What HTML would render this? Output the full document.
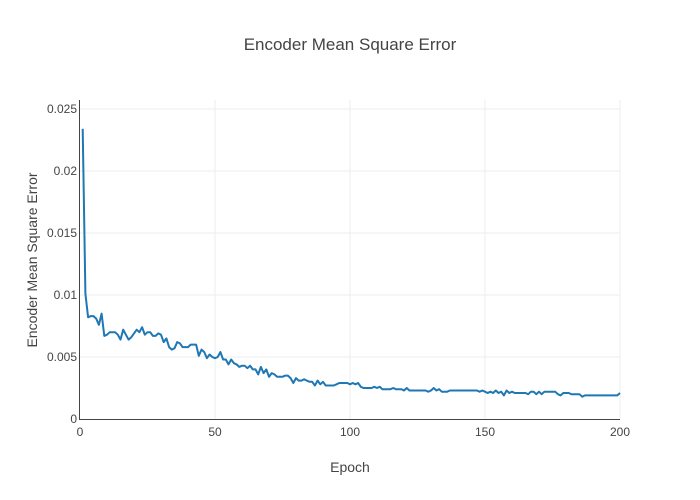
<!DOCTYPE html>
<html><head><meta charset="utf-8">
<style>
body{margin:0;background:#fff;}
svg{display:block;font-family:"Liberation Sans",sans-serif;}
</style></head>
<body>
<svg id="chart" width="700" height="500">
  <g id="grid"></g>
  <g id="axes"></g>
  <path id="line" fill="none" stroke="#1f77b4" stroke-width="2" stroke-linejoin="round"/>
  <text x="350" y="50" text-anchor="middle" font-size="17" fill="#444">Encoder Mean Square Error</text>
  <text x="350" y="472" text-anchor="middle" font-size="14" fill="#444">Epoch</text>
  <text transform="translate(37,260) rotate(-90)" text-anchor="middle" font-size="14" fill="#444">Encoder Mean Square Error</text>
</svg>
<script>
const xTicks=[0,50,100,150,200];
const yTicks=[0,0.005,0.01,0.015,0.02,0.025];
const yTickLabels=["0","0.005","0.01","0.015","0.02","0.025"];
const mseStart=[0.0234,0.0101,0.0082,0.0083,0.0083,0.0081,0.0076,0.0085,0.0067,0.0068,0.0070,0.0070,0.0070,0.0068,0.0064,0.0072,0.0068,0.0064,0.0066,0.0069,0.0072,0.0070,0.0074,0.0068,0.0070,0.0070,0.0067,0.0067,0.0069,0.0068,0.0062,0.0065,0.0058,0.0056,0.0057,0.0062,0.0061,0.0058,0.0058,0.0058,0.0060,0.0060,0.0060,0.0051,0.0056,0.0054,0.0049,0.0052,0.0050,0.0049];
const mseMid=[0.0050,0.0054,0.0048,0.0048,0.0044,0.0048,0.0045,0.0044,0.0042,0.0043,0.0043,0.0041,0.0043,0.0040,0.0040,0.0036,0.0042,0.0037,0.0040,0.0034,0.0037,0.0036,0.0034,0.0034,0.0034,0.0035,0.0035,0.0033,0.0029,0.0033,0.0031,0.0031,0.0032,0.0031,0.0030,0.0030,0.0027,0.0031,0.0028,0.0030,0.0027,0.0027,0.0027,0.0027,0.0028,0.0029,0.0029,0.0029,0.0029,0.0028];
const mseLate=[0.0029,0.0028,0.0029,0.0026,0.0025,0.0025,0.0025,0.0025,0.0026,0.0025,0.0026,0.0024,0.0024,0.0024,0.0024,0.0025,0.0024,0.0024,0.0024,0.0023,0.0025,0.0023,0.0023,0.0023,0.0023,0.0023,0.0023,0.0023,0.0022,0.0023,0.0025,0.0023,0.0024,0.0022,0.0022,0.0022,0.0023,0.0023,0.0023,0.0023,0.0023,0.0023,0.0023,0.0023,0.0023,0.0023,0.0023,0.0022,0.0023,0.0022];
const mseEnd=[0.0021,0.0022,0.0021,0.0023,0.0021,0.0022,0.0019,0.0023,0.0021,0.0022,0.0021,0.0021,0.0021,0.0021,0.0021,0.0020,0.0022,0.0022,0.0020,0.0022,0.0020,0.0022,0.0022,0.0022,0.0022,0.0022,0.0020,0.0019,0.0021,0.0021,0.0021,0.0020,0.0020,0.0020,0.0020,0.0018,0.0019,0.0019,0.0019,0.0019,0.0019,0.0019,0.0019,0.0019,0.0019,0.0019,0.0019,0.0019,0.0019,0.0021];
const mse=mseStart.concat(mseMid,mseLate,mseEnd);
const epochs=mse.map((_,i)=>i+1);
const X0=80,X1=620,Y0=419,Y1=109;
const xs=v=>X0+(v-0)/(200-0)*(X1-X0);
const ys=v=>Y0-(v/0.025)*(Y0-Y1);
const NS="http://www.w3.org/2000/svg";
const grid=document.getElementById('grid'),axes=document.getElementById('axes');
function mk(tag,attrs,parent){const e=document.createElementNS(NS,tag);for(const k in attrs)e.setAttribute(k,attrs[k]);parent.appendChild(e);return e;}
xTicks.forEach(t=>{
  if(t>0){const g=mk('line',{x1:xs(t),x2:xs(t),y1:100,y2:Y0,stroke:'#eee','stroke-width':1},grid);
  
  }
  const l=mk('text',{x:xs(t),y:Y0+17,'text-anchor':'middle','font-size':12,fill:'#444'},axes);
  l.textContent=t;
  
  
});
yTicks.forEach((t,i)=>{
  if(t>0){const g=mk('line',{x1:X0,x2:X1,y1:ys(t),y2:ys(t),stroke:'#eee','stroke-width':1},grid);
  
  }
  const l=mk('text',{x:X0-3,y:ys(t)+4,'text-anchor':'end','font-size':12,fill:'#444'},axes);
  l.textContent=yTickLabels[i];
  
  
});
const ya=mk('line',{x1:X0-0.5,x2:X0-0.5,y1:100,y2:Y0+1,stroke:'#444','stroke-width':1},axes);


const xa=mk('line',{x1:X0-1,x2:X1,y1:Y0+0.5,y2:Y0+0.5,stroke:'#444','stroke-width':1},axes);


document.getElementById('line').setAttribute('d',mse.map((v,i)=>(i?'L':'M')+xs(epochs[i]).toFixed(1)+','+ys(v).toFixed(1)).join(''));
</script>
</body></html>
